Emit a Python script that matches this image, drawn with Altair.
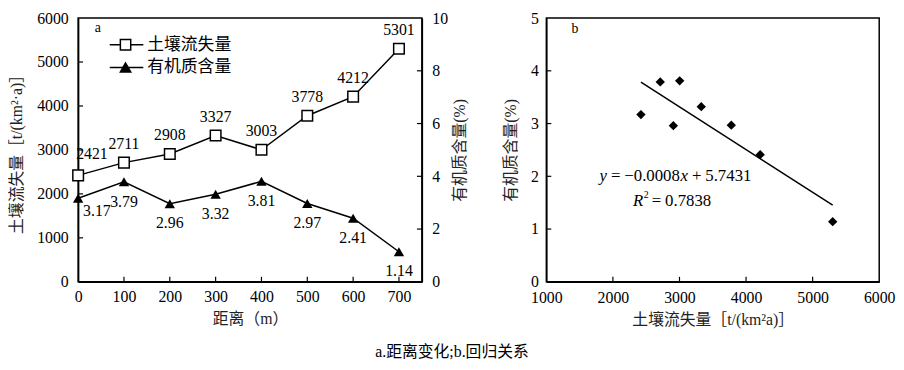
import altair as alt
import pandas as pd

# ---- data ----
distance = [0, 100, 200, 300, 400, 500, 600, 700]
soil_loss = [2421, 2711, 2908, 3327, 3003, 3778, 4212, 5301]
organic = [3.17, 3.79, 2.96, 3.32, 3.81, 2.97, 2.41, 1.14]

xa_ticks = [100, 200, 300, 400, 500, 600, 700]
ya_left_ticks = [1000, 2000, 3000, 4000, 5000]
ya_right_ticks = [2, 4, 6, 8]
xb_ticks = [2000, 3000, 4000, 5000]
yb_ticks = [1, 2, 3, 4]

legend_names = ["土壤流失量", "有机质含量"]
eq_parts = ["y", "=", "−0.0008", "x", "+", "5.7431"]
r2_parts = ["R", "2", "=", "0.7838"]
caption = "a.距离变化;b.回归关系"

SERIF = "Liberation Serif"
CJK = "Liberation Serif, Noto Sans CJK SC"

WA, WB, H = 348, 337, 267

df = pd.DataFrame({"dist": distance, "soil": soil_loss, "org": organic})
one = pd.DataFrame({"k": [0]})

xa = alt.Scale(domain=[0, 750], nice=False, zero=False)
ya_l = alt.Scale(domain=[0, 6000], nice=False)
ya_r = alt.Scale(domain=[0, 10], nice=False)
xb = alt.Scale(domain=[1000, 6000], nice=False, zero=False)
yb = alt.Scale(domain=[0, 5], nice=False)

TICK = 5

xa_title = "距离（m）"
xa_axis = alt.Axis(values=distance, labelPadding=7, titlePadding=6, format="d")
xb_title = "土壤流失量［t/(km²a)］"
xb_axis = alt.Axis(values=[1000] + xb_ticks + [6000], labelPadding=8, titlePadding=6, format="d")
yb_title = "有机质含量(%)"
yb_axis = alt.Axis(values=[0] + yb_ticks + [5], labelPadding=8, titlePadding=12, format="d")


def xticks(vals, scale, h, axis, title):
    return alt.Chart(pd.DataFrame({"v": vals})).mark_rule(color="black", strokeWidth=1.2).encode(
        x=alt.X("v:Q", scale=scale, axis=axis, title=title),
        y=alt.value(h), y2=alt.value(h - TICK))


def yticks(vals, scale, x0, x1, axis=None, title=None):
    kw = {"title": title} if title is not None else {}
    return alt.Chart(pd.DataFrame({"v": vals})).mark_rule(color="black", strokeWidth=1.2).encode(
        y=alt.Y("v:Q", scale=scale, axis=axis, **kw),
        x=alt.value(x0), x2=alt.value(x1))


base_a = alt.Chart(df)

soil_line = base_a.mark_line(color="black", strokeWidth=1.5).encode(
    x=alt.X("dist:Q", scale=xa, title=xa_title, axis=xa_axis),
    y=alt.Y("soil:Q", scale=ya_l, title="土壤流失量［t/(km²·a)］",
            axis=alt.Axis(values=[0] + ya_left_ticks + [6000], labelPadding=10, titlePadding=12,
                          format="d")))
soil_pts = base_a.mark_point(shape="square", filled=True, fill="white", stroke="black",
                             strokeWidth=1.5, size=115, opacity=1).encode(
    x=alt.X("dist:Q", scale=xa, title=xa_title, axis=xa_axis),
    y=alt.Y("soil:Q", scale=ya_l, axis=None))
soil_lab_first = base_a.transform_filter("datum.dist == 0").mark_text(
    font=SERIF, fontSize=16, align="left", dx=-2, dy=-22).encode(
    x=alt.X("dist:Q", scale=xa, title=xa_title, axis=xa_axis),
    y=alt.Y("soil:Q", scale=ya_l, axis=None), text="soil:Q")
soil_lab = base_a.transform_filter("datum.dist > 0").mark_text(
    font=SERIF, fontSize=16, align="center", dy=-19).encode(
    x=alt.X("dist:Q", scale=xa, title=xa_title, axis=xa_axis),
    y=alt.Y("soil:Q", scale=ya_l, axis=None), text="soil:Q")

org_line = base_a.mark_line(color="black", strokeWidth=1.5).encode(
    x=alt.X("dist:Q", scale=xa, title=xa_title, axis=xa_axis),
    y=alt.Y("org:Q", scale=ya_r, title="有机质含量(%)",
            axis=alt.Axis(orient="right", values=[0] + ya_right_ticks + [10], labelPadding=10,
                          titlePadding=20, titleAngle=270, format="d")))
org_pts = base_a.mark_point(shape="triangle-up", filled=True, color="black", size=110, opacity=1).encode(
    x=alt.X("dist:Q", scale=xa, title=xa_title, axis=xa_axis),
    y=alt.Y("org:Q", scale=ya_r, axis=None))
org_lab_first = base_a.transform_filter("datum.dist == 0").mark_text(
    font=SERIF, fontSize=16, align="left", dx=5, dy=13).encode(
    x=alt.X("dist:Q", scale=xa, title=xa_title, axis=xa_axis),
    y=alt.Y("org:Q", scale=ya_r, axis=None),
    text=alt.Text("org:Q", format=".2f"))
org_lab = base_a.transform_filter("datum.dist > 0").mark_text(
    font=SERIF, fontSize=16, align="center", dy=20).encode(
    x=alt.X("dist:Q", scale=xa, title=xa_title, axis=xa_axis),
    y=alt.Y("org:Q", scale=ya_r, axis=None),
    text=alt.Text("org:Q", format=".2f"))

# manual legend (inside panel a)
leg = []
for i, (name, shp, fill) in enumerate(zip(legend_names, ["square", "triangle-up"], ["white", "black"])):
    yy = 27 + i * 23
    leg.append(alt.Chart(one).mark_rule(color="black", strokeWidth=1.5).encode(
        x=alt.value(32), x2=alt.value(66), y=alt.value(yy)))
    leg.append(alt.Chart(one).mark_point(shape=shp, filled=True, fill=fill, stroke="black",
                                         strokeWidth=1.5, size=110, opacity=1).encode(
        x=alt.value(48), y=alt.value(yy)))
    leg.append(alt.Chart(one).mark_text(font=CJK, fontSize=17, align="left", baseline="middle").encode(
        x=alt.value(70), y=alt.value(yy), text=alt.value(name)))

lab_a = alt.Chart(one).mark_text(font=SERIF, fontSize=14, align="center", baseline="middle").encode(
    x=alt.value(20), y=alt.value(10), text=alt.value("a"))

panel_a = alt.layer(
    soil_line, org_line, soil_pts, org_pts, soil_lab_first, soil_lab, org_lab_first, org_lab,
    xticks(xa_ticks, xa, H, xa_axis, xa_title),
    yticks(ya_left_ticks, ya_l, 0, TICK),
    yticks(ya_right_ticks, ya_r, WA, WA - TICK),
    *leg, lab_a
).resolve_scale(y="independent").properties(width=WA, height=H)

# ---- panel b ----
base_b = alt.Chart(df)
scatter = base_b.mark_point(shape="diamond", filled=True, color="black", size=90, opacity=1).encode(
    x=alt.X("soil:Q", scale=xb, title=xb_title, axis=xb_axis),
    y=alt.Y("org:Q", scale=yb, title=yb_title, axis=yb_axis))
reg = base_b.transform_regression("soil", "org", extent=[2421, 5301]).mark_line(
    color="black", strokeWidth=1.5).encode(
    x=alt.X("soil:Q", scale=xb, title=xb_title, axis=xb_axis),
    y=alt.Y("org:Q", scale=yb, title=yb_title, axis=yb_axis))

eq_df = pd.DataFrame({"x": [1800], "y": [2.0]})
eq_layers = []
eq_dx = [0, 11.5, 25, 82, 93.5, 107]
for part, dx, ital in zip(eq_parts, eq_dx, [True, False, False, True, False, False]):
    eq_layers.append(alt.Chart(eq_df).mark_text(
        font=SERIF, fontSize=17, align="left", baseline="middle", dx=dx,
        fontStyle="italic" if ital else "normal").encode(
        x=alt.X("x:Q", scale=xb, title=xb_title, axis=xb_axis),
        y=alt.Y("y:Q", scale=yb, title=yb_title, axis=yb_axis), text=alt.value(part)))
r2_df = pd.DataFrame({"x": [2300], "y": [1.53]})
for part, dx, dy, fs, ital in zip(r2_parts, [0, 11, 19, 32.6], [0, -6, 0, 0], [17, 10, 17, 17],
                                  [True, False, False, False]):
    eq_layers.append(alt.Chart(r2_df).mark_text(
        font=SERIF, fontSize=fs, align="left", baseline="middle", dx=dx, dy=dy,
        fontStyle="italic" if ital else "normal").encode(
        x=alt.X("x:Q", scale=xb, title=xb_title, axis=xb_axis),
        y=alt.Y("y:Q", scale=yb, title=yb_title, axis=yb_axis), text=alt.value(part)))

lab_b = alt.Chart(one).mark_text(font=SERIF, fontSize=14, align="center", baseline="middle").encode(
    x=alt.value(29), y=alt.value(11), text=alt.value("b"))

panel_b = alt.layer(
    scatter, reg, *eq_layers,
    xticks(xb_ticks, xb, H, xb_axis, xb_title),
    yticks(yb_ticks, yb, 0, TICK, yb_axis, yb_title),
    lab_b
).properties(width=WB, height=H)

chart = alt.hconcat(panel_a, panel_b, spacing=34).properties(
    title=alt.TitleParams(caption, orient="bottom", anchor="middle", font=CJK, fontSize=16,
                          fontWeight="normal", color="black", offset=16),
    padding={"left": 0, "top": -1, "right": 0, "bottom": 0},
    background="white",
).configure_view(stroke="black", strokeWidth=1.5).configure_axis(
    labelFont=SERIF, labelFontSize=16, labelColor="black",
    titleFont=CJK, titleFontSize=16, titleFontWeight="normal", titleColor="#222",
    ticks=False, grid=False, domainColor="black", domainWidth=1.5, labelFlush=False,
)

chart.save("out.html", embed_options={"renderer": "svg", "actions": False})
